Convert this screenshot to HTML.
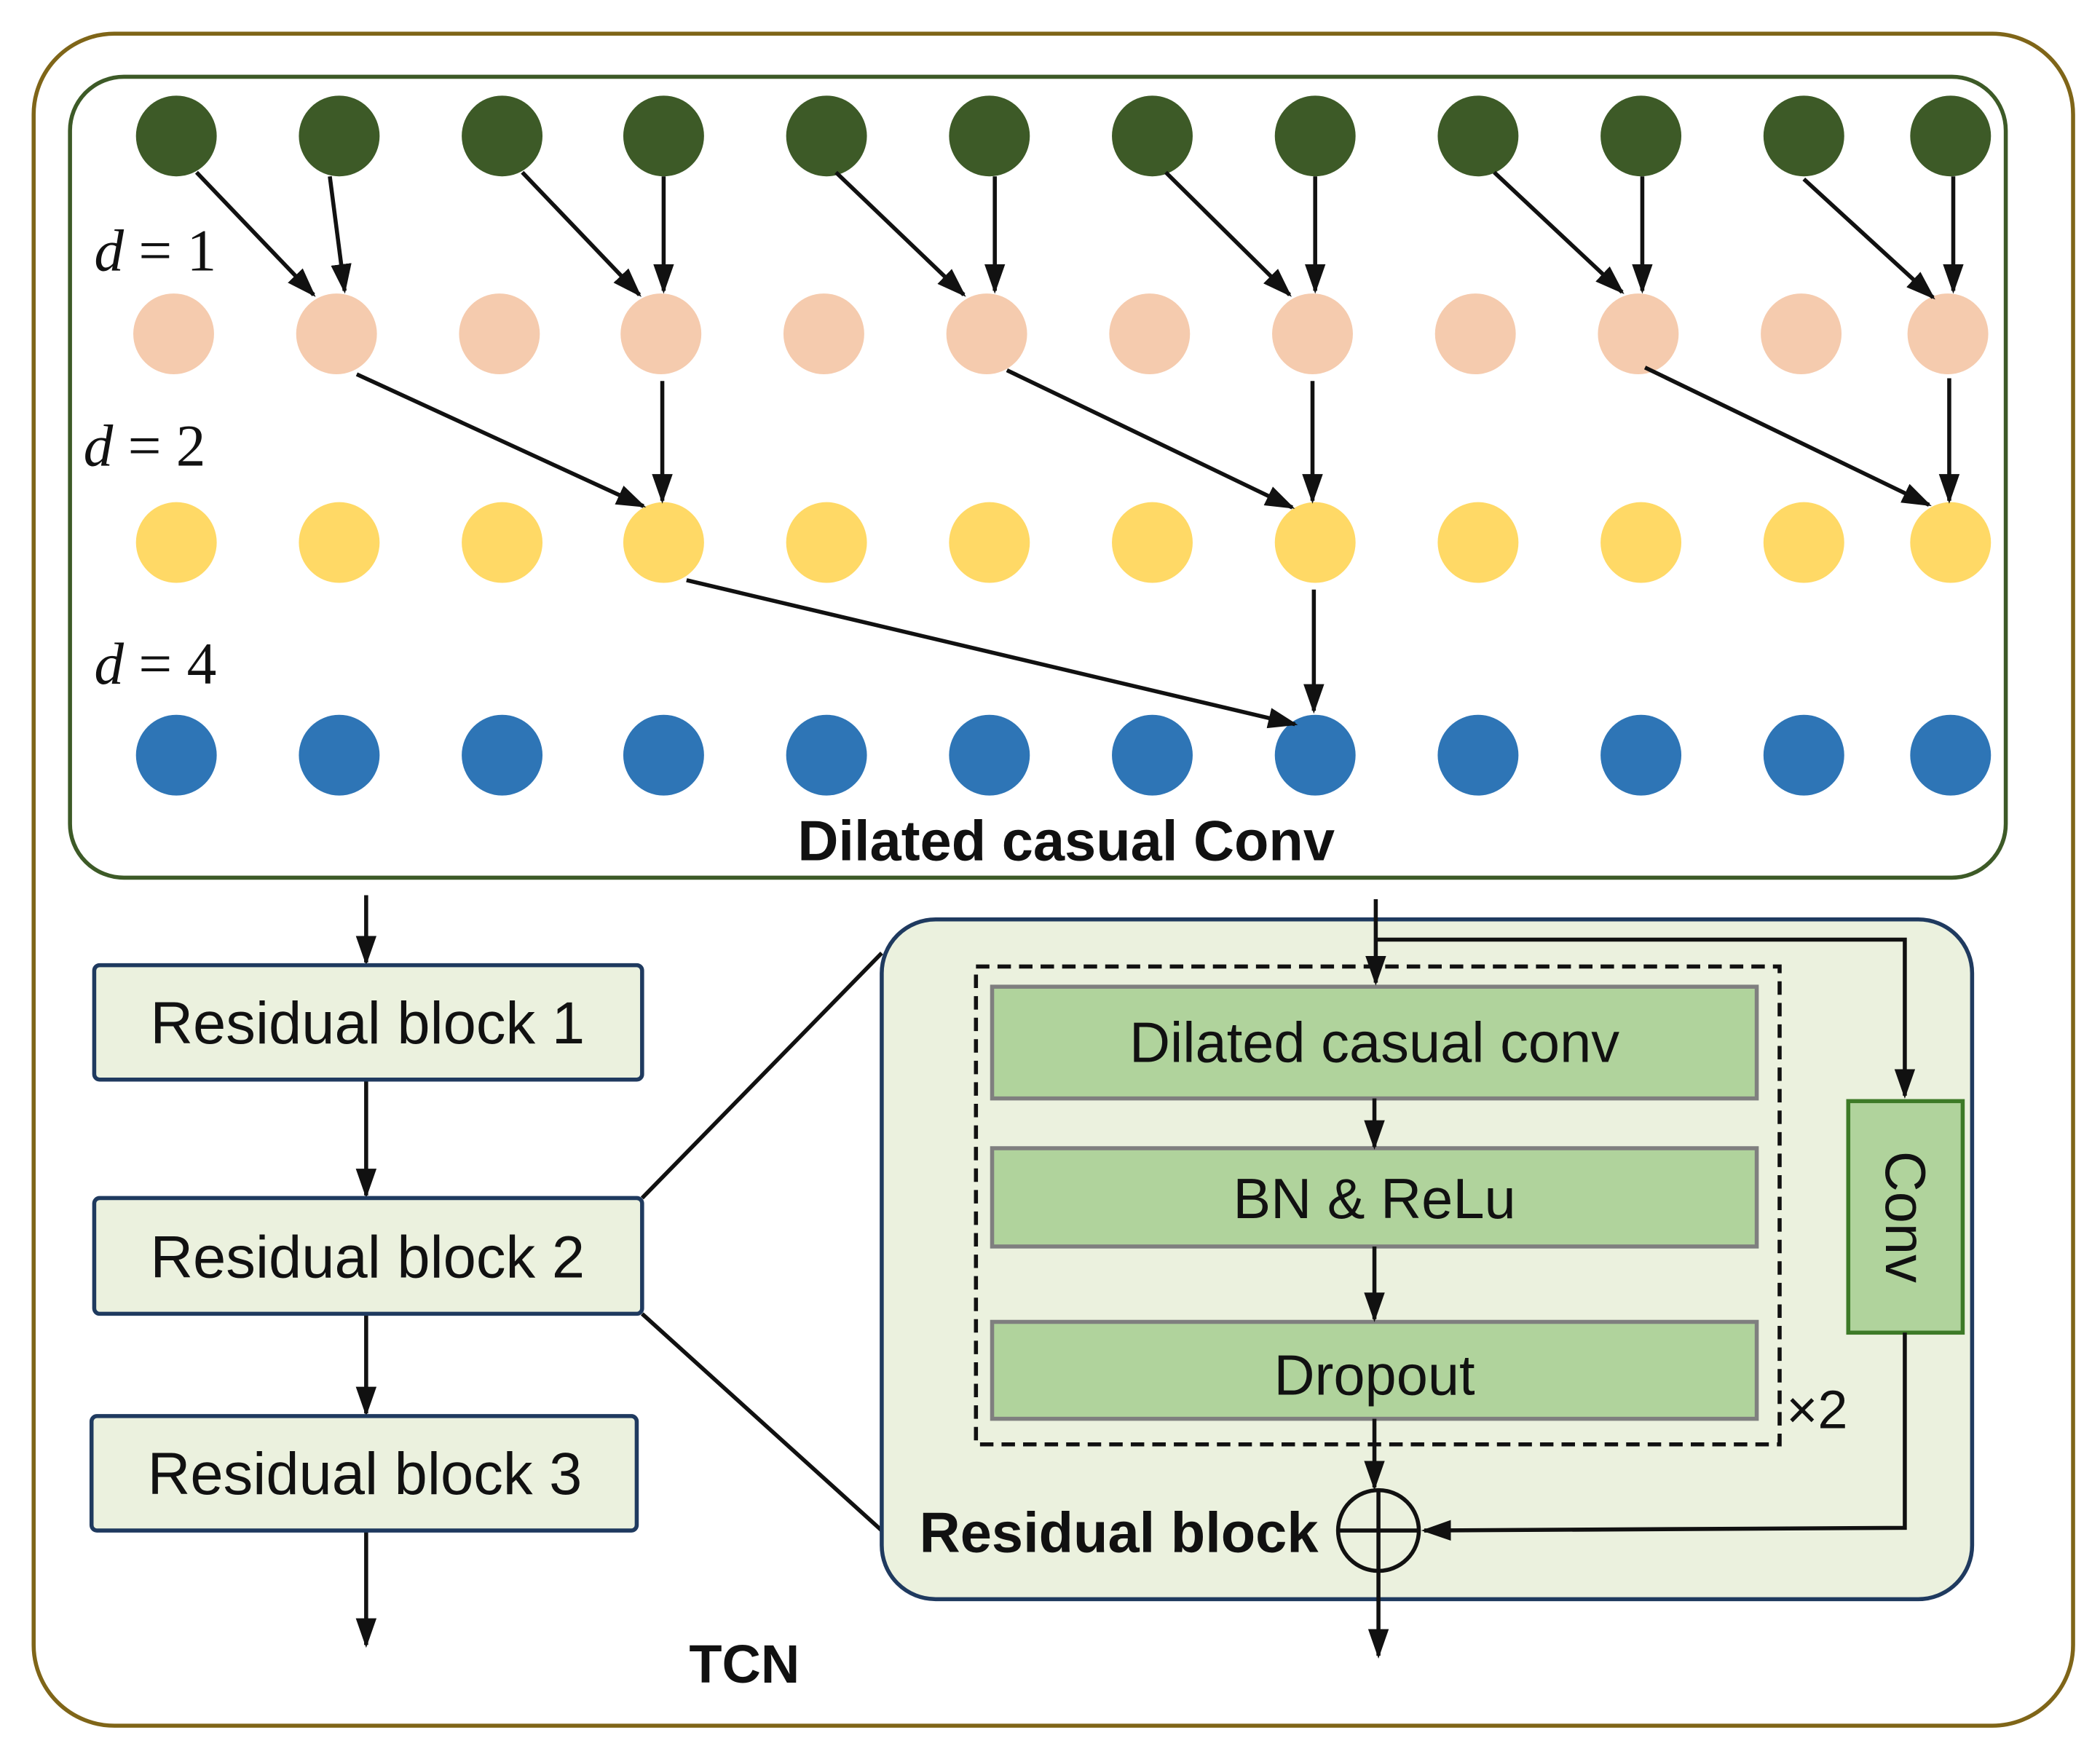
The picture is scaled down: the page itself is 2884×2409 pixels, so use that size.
<!DOCTYPE html>
<html><head><meta charset="utf-8"><style>html,body{margin:0;padding:0;background:#fff}svg{display:block}</style></head>
<body>
<svg width="2884" height="2409" viewBox="0 0 1560 1303" xmlns="http://www.w3.org/2000/svg">
<defs>
<marker id="b" viewBox="0 0 10 10" refX="9" refY="5" markerWidth="22" markerHeight="22" markerUnits="userSpaceOnUse" orient="auto"><path d="M0,1.5 L10,5 L0,8.5 z" fill="#111"/></marker>
</defs>
<rect x="0" y="0" width="1560" height="1303" fill="#fff"/>
<rect x="25" y="25" width="1515" height="1257" rx="60" fill="none" stroke="#7f6518" stroke-width="3"/>
<rect x="52" y="57" width="1438" height="595" rx="40" fill="none" stroke="#3d5a27" stroke-width="3"/>
<g fill="#3d5a27">
<circle cx="131" cy="101" r="30"/><circle cx="252" cy="101" r="30"/><circle cx="373" cy="101" r="30"/><circle cx="493" cy="101" r="30"/><circle cx="614" cy="101" r="30"/><circle cx="735" cy="101" r="30"/><circle cx="856" cy="101" r="30"/><circle cx="977" cy="101" r="30"/><circle cx="1098" cy="101" r="30"/><circle cx="1219" cy="101" r="30"/><circle cx="1340" cy="101" r="30"/><circle cx="1449" cy="101" r="30"/>
</g>
<g fill="#f5cbae">
<circle cx="129" cy="248" r="30"/><circle cx="250" cy="248" r="30"/><circle cx="371" cy="248" r="30"/><circle cx="491" cy="248" r="30"/><circle cx="612" cy="248" r="30"/><circle cx="733" cy="248" r="30"/><circle cx="854" cy="248" r="30"/><circle cx="975" cy="248" r="30"/><circle cx="1096" cy="248" r="30"/><circle cx="1217" cy="248" r="30"/><circle cx="1338" cy="248" r="30"/><circle cx="1447" cy="248" r="30"/>
</g>
<g fill="#ffd966">
<circle cx="131" cy="403" r="30"/><circle cx="252" cy="403" r="30"/><circle cx="373" cy="403" r="30"/><circle cx="493" cy="403" r="30"/><circle cx="614" cy="403" r="30"/><circle cx="735" cy="403" r="30"/><circle cx="856" cy="403" r="30"/><circle cx="977" cy="403" r="30"/><circle cx="1098" cy="403" r="30"/><circle cx="1219" cy="403" r="30"/><circle cx="1340" cy="403" r="30"/><circle cx="1449" cy="403" r="30"/>
</g>
<g fill="#2e75b6">
<circle cx="131" cy="561" r="30"/><circle cx="252" cy="561" r="30"/><circle cx="373" cy="561" r="30"/><circle cx="493" cy="561" r="30"/><circle cx="614" cy="561" r="30"/><circle cx="735" cy="561" r="30"/><circle cx="856" cy="561" r="30"/><circle cx="977" cy="561" r="30"/><circle cx="1098" cy="561" r="30"/><circle cx="1219" cy="561" r="30"/><circle cx="1340" cy="561" r="30"/><circle cx="1449" cy="561" r="30"/>
</g>
<g stroke="#111" stroke-width="3" fill="none" marker-end="url(#b)">
<line x1="146" y1="128" x2="233" y2="219"/><line x1="245" y1="131" x2="256" y2="216"/>
<line x1="388" y1="128" x2="475" y2="219"/><line x1="493" y1="131" x2="493" y2="216"/>
<line x1="621" y1="128" x2="716" y2="219"/><line x1="739" y1="131" x2="739" y2="216"/>
<line x1="866" y1="128" x2="958" y2="219"/><line x1="977" y1="131" x2="977" y2="216"/>
<line x1="1110" y1="128" x2="1205" y2="217"/><line x1="1220" y1="131" x2="1220" y2="216"/>
<line x1="1340" y1="133" x2="1436" y2="221"/><line x1="1451" y1="131" x2="1451" y2="216"/>
<line x1="265" y1="278" x2="478" y2="376"/><line x1="492" y1="283" x2="492" y2="372"/>
<line x1="748" y1="275" x2="960" y2="377"/><line x1="975" y1="283" x2="975" y2="372"/>
<line x1="1222" y1="273" x2="1433" y2="375"/><line x1="1448" y1="281" x2="1448" y2="372"/>
<line x1="510" y1="431" x2="962" y2="538"/><line x1="976" y1="438" x2="976" y2="528"/>
</g>
<g font-family="Liberation Serif, serif" font-size="44" fill="#111">
<text x="70" y="201"><tspan font-style="italic">d</tspan> = 1</text>
<text x="62" y="346"><tspan font-style="italic">d</tspan> = 2</text>
<text x="70" y="508"><tspan font-style="italic">d</tspan> = 4</text>
</g>
<text x="792" y="639" text-anchor="middle" font-family="Liberation Sans, sans-serif" font-weight="bold" font-size="42" fill="#111">Dilated casual Conv</text>

<g stroke="#111" stroke-width="3" fill="none" marker-end="url(#b)">
<line x1="272" y1="665" x2="272" y2="715"/>
<line x1="272" y1="802" x2="272" y2="888"/>
<line x1="272" y1="976" x2="272" y2="1050"/>
<line x1="272" y1="1137" x2="272" y2="1222"/>
</g>
<g fill="#ebf1de" stroke="#1f3a5f" stroke-width="3">
<rect x="70" y="717" width="407" height="85" rx="4"/>
<rect x="70" y="890" width="407" height="86" rx="4"/>
<rect x="68" y="1052" width="405" height="85" rx="4"/>
</g>
<g font-family="Liberation Sans, sans-serif" font-size="44" fill="#111" text-anchor="middle">
<text x="273" y="775">Residual block 1</text>
<text x="273" y="949">Residual block 2</text>
<text x="271" y="1110">Residual block 3</text>
</g>
<line x1="477" y1="890" x2="655" y2="708" stroke="#111" stroke-width="3"/>
<line x1="477" y1="976" x2="655" y2="1137" stroke="#111" stroke-width="3"/>
<rect x="655" y="683" width="810" height="505" rx="40" fill="#ebf1de" stroke="#1f3a5f" stroke-width="3"/>
<rect x="725" y="718" width="597" height="355" fill="none" stroke="#111" stroke-width="3" stroke-dasharray="10,6"/>
<g fill="#b0d39c" stroke="#7f7f7f" stroke-width="3">
<rect x="737" y="733" width="568" height="83"/>
<rect x="737" y="853" width="568" height="73"/>
<rect x="737" y="982" width="568" height="72"/>
</g>
<rect x="1373" y="818" width="85" height="172" fill="#b0d39c" stroke="#3d7a27" stroke-width="3"/>
<g font-family="Liberation Sans, sans-serif" font-size="42" fill="#111" text-anchor="middle">
<text x="1021" y="789">Dilated casual conv</text>
<text x="1021" y="905">BN &amp; ReLu</text>
<text x="1021" y="1036">Dropout</text>
<text transform="translate(1401,904) rotate(90)">Conv</text>
</g>
<g stroke="#111" stroke-width="3" fill="none" marker-end="url(#b)">
<line x1="1022" y1="668" x2="1022" y2="730"/>
<polyline points="1022,698 1415,698 1415,814"/>
<line x1="1021" y1="816" x2="1021" y2="852"/>
<line x1="1021" y1="926" x2="1021" y2="980"/>
<line x1="1021" y1="1054" x2="1021" y2="1105"/>
<polyline points="1415,990 1415,1135 1058,1137"/>
<line x1="1024" y1="1167" x2="1024" y2="1230"/>
</g>
<circle cx="1024" cy="1137" r="30" fill="none" stroke="#111" stroke-width="3"/>
<line x1="994" y1="1137" x2="1054" y2="1137" stroke="#111" stroke-width="3"/>
<line x1="1024" y1="1107" x2="1024" y2="1167" stroke="#111" stroke-width="3"/>
<text x="1327" y="1061" font-family="Liberation Sans, sans-serif" font-size="40" fill="#111">×2</text>
<text x="683" y="1153" font-family="Liberation Sans, sans-serif" font-weight="bold" font-size="42" fill="#111">Residual block</text>
<text x="553" y="1250" text-anchor="middle" font-family="Liberation Sans, sans-serif" font-weight="bold" font-size="40" fill="#111">TCN</text>
</svg>
</body></html>
